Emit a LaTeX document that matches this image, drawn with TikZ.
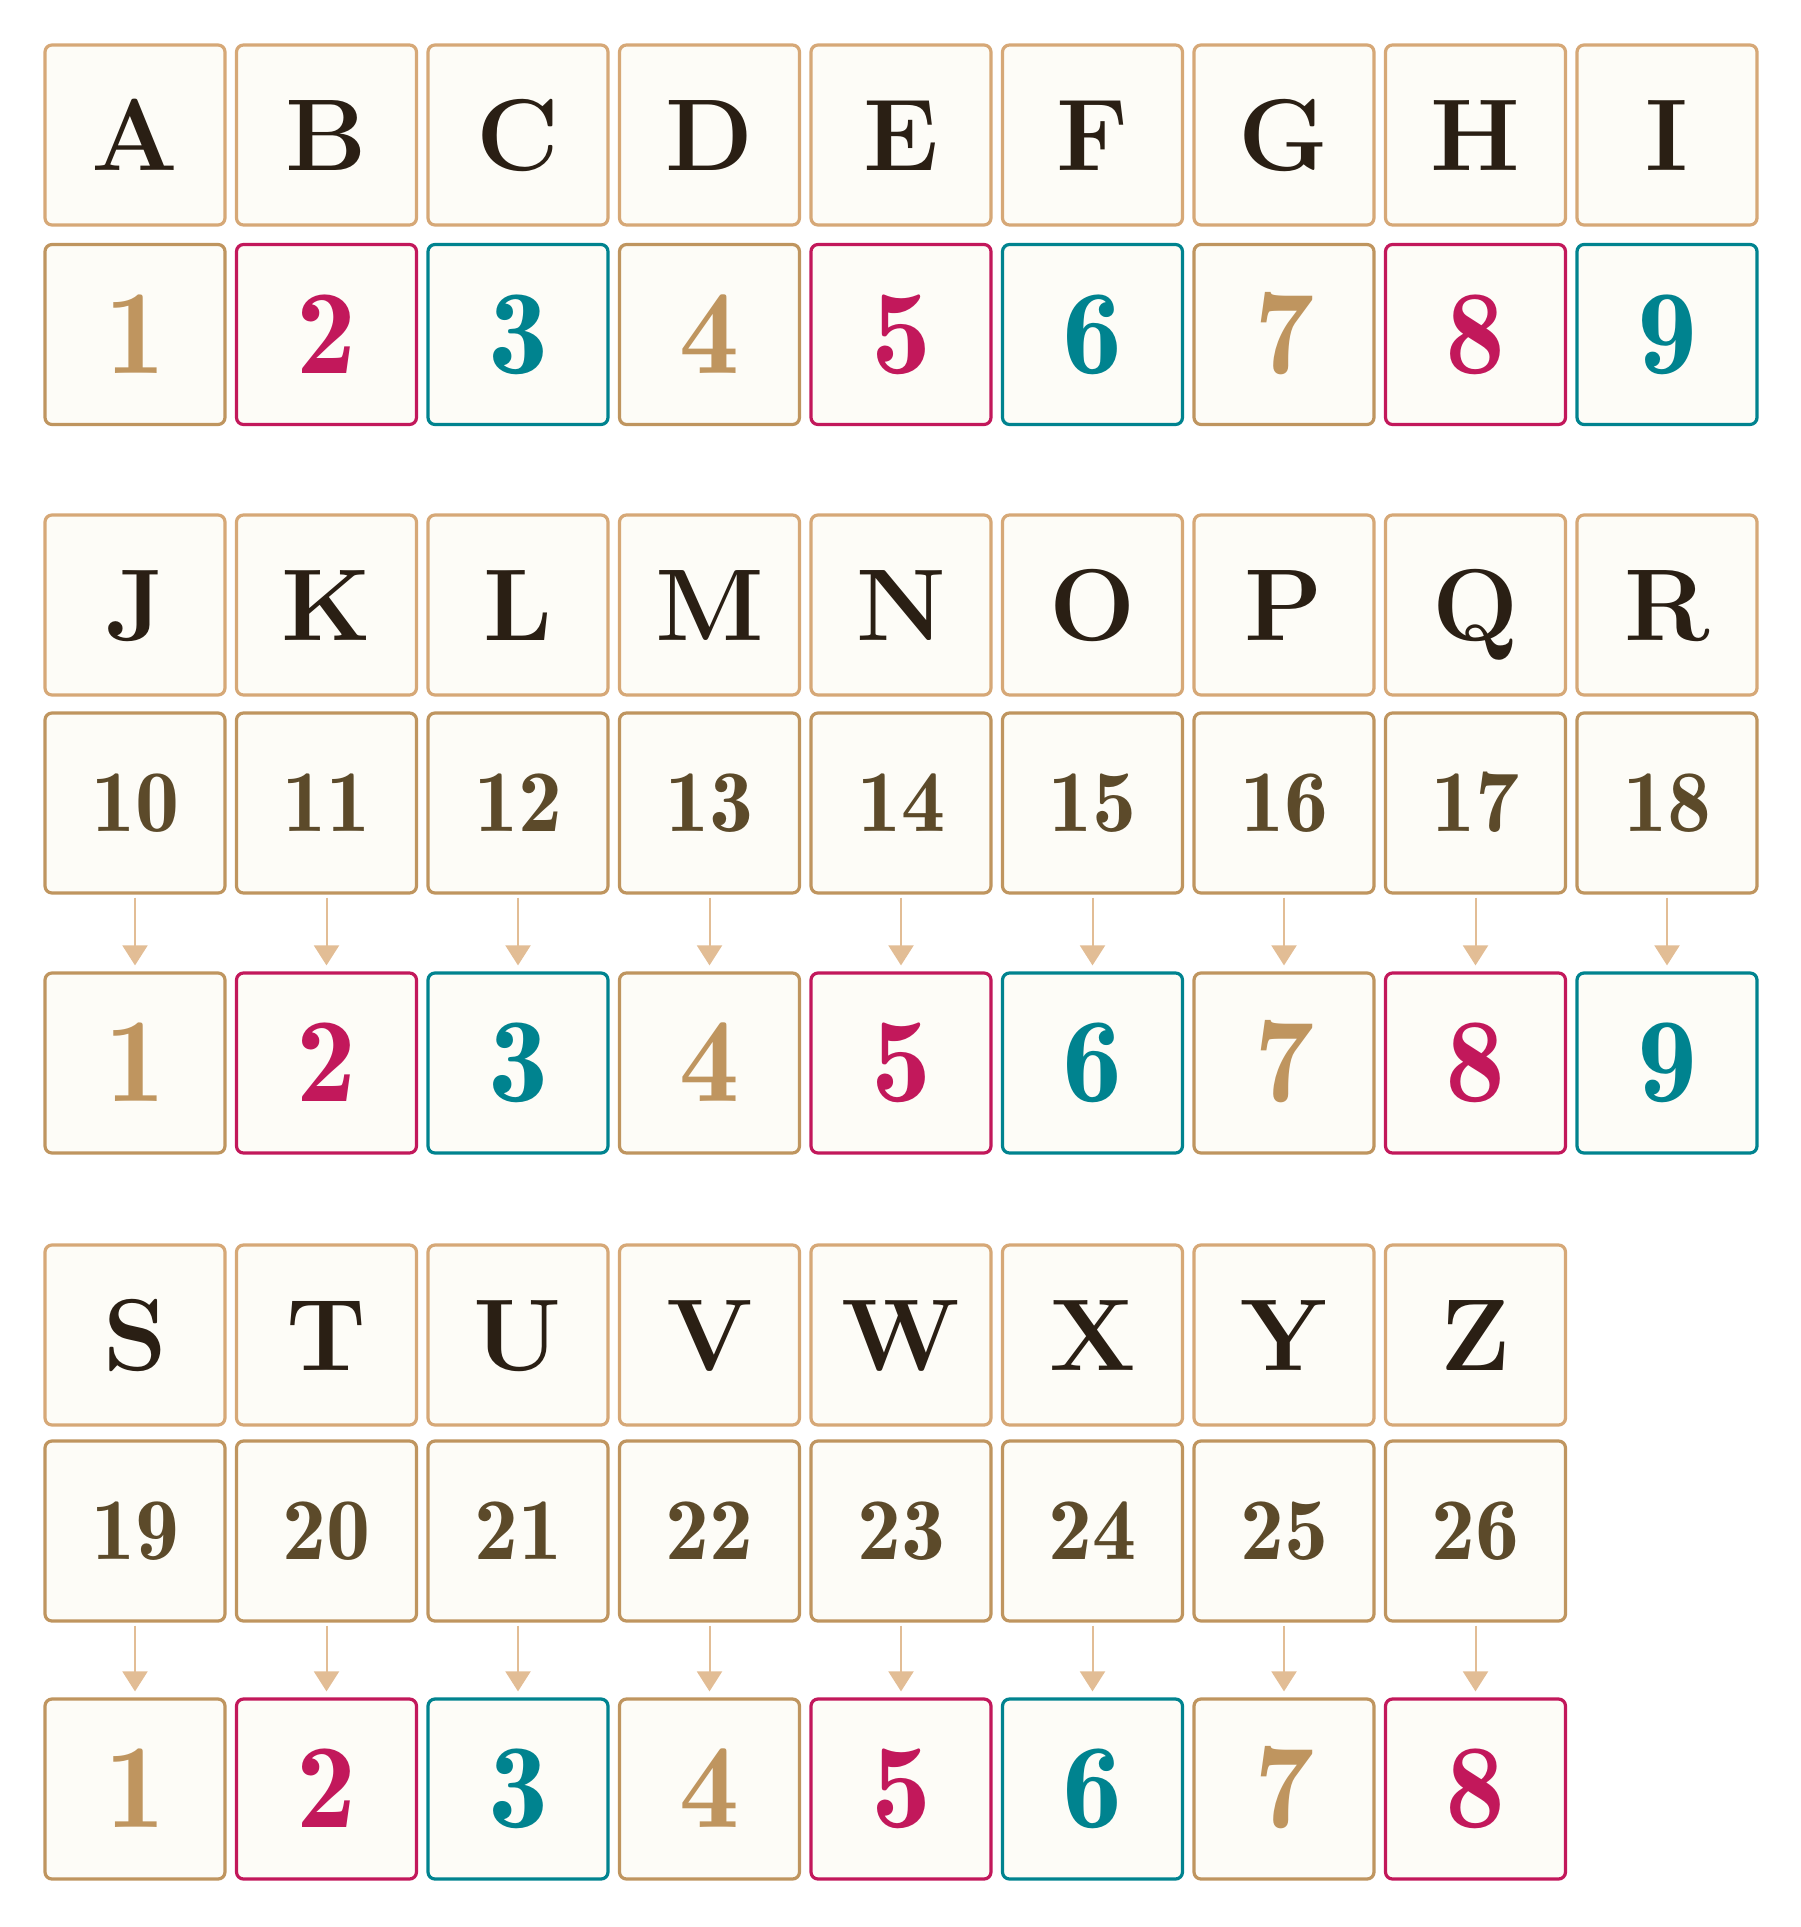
\documentclass[tikz,border=0pt]{standalone}
\usepackage{tikz}
\usetikzlibrary{arrows.meta}
\definecolor{boxfill}{HTML}{FDFCF7}
\definecolor{lettertan}{HTML}{D6A877}
\definecolor{letterink}{HTML}{2A1F14}
\definecolor{numbertan}{HTML}{BF955F}
\definecolor{numberink}{HTML}{5C4A2A}
\definecolor{arrowtan}{HTML}{E2BD95}
\colorlet{digitc0}{numbertan}
\definecolor{digitc1}{HTML}{C2185B}
\definecolor{digitc2}{HTML}{00838F}
\tikzset{
	letterbox/.style={
		rectangle,
		rounded corners=3.5pt,
		line width=1.6pt,
		draw=lettertan,
		fill=boxfill,
		minimum size=90pt,
		inner sep=0pt,
		text=letterink,
		font=\fontsize{51}{51}\selectfont\bfseries,
		text height=35pt,
		text depth=0pt
	},
	numberbox/.style={
		rectangle,
		rounded corners=3.5pt,
		line width=1.6pt,
		draw=numbertan,
		fill=boxfill,
		minimum size=90pt,
		inner sep=0pt,
		text=numberink,
		font=\fontsize{44}{44}\fontseries{b}\selectfont,
		text height=28.3pt,
		text depth=0pt
	},
	digitbox/.style={
		rectangle,
		rounded corners=3.5pt,
		line width=1.6pt,
		draw=#1,
		fill=boxfill,
		minimum size=90pt,
		inner sep=0pt,
		text=#1,
		font=\fontsize{60}{60}\fontseries{b}\selectfont,
		text height=38.6pt,
		text depth=0pt
	},
	reduce/.style={
		draw=arrowtan,
		line width=1pt,
		-{Triangle[length=10pt,width=12.5pt]},
		shorten <=1.5pt,
		shorten >=3pt
	},
}

\begin{document}
\begin{tikzpicture}[x=0.5pt,y=-0.5pt]
	\useasboundingbox (0,0) rectangle (1800,1927);
	\foreach \l [count=\n] in {A,B,C,D,E,F,G,H,I,J,K,L,M,N,O,P,Q,R,S,T,U,V,W,X,Y,Z} {
		\pgfmathtruncatemacro{\g}{(\n-1)/9}
		\pgfmathtruncatemacro{\d}{mod(\n-1,9)+1}
		\pgfmathtruncatemacro{\k}{mod(\d-1,3)}
		\pgfmathsetmacro{\x}{135+191.5*(\d-1)}
		\pgfmathsetmacro{\yl}{{135,605,1335}[\g]}
		\pgfmathsetmacro{\yn}{{334.5,803,1531}[\g]}
		\pgfmathsetmacro{\yd}{{0,1063,1789}[\g]}
		\node [letterbox] (L\n) at (\x,\yl) {\l};
		\ifnum\g=0
			\node [digitbox=digitc\k] (N\n) at (\x,\yn) {\d};
		\else
			\node [numberbox] (N\n) at (\x,\yn) {\n};
			\node [digitbox=digitc\k] (D\n) at (\x,\yd) {\d};
			\draw [reduce] (N\n) -- (D\n);
		\fi
	}
\end{tikzpicture}
\end{document}
